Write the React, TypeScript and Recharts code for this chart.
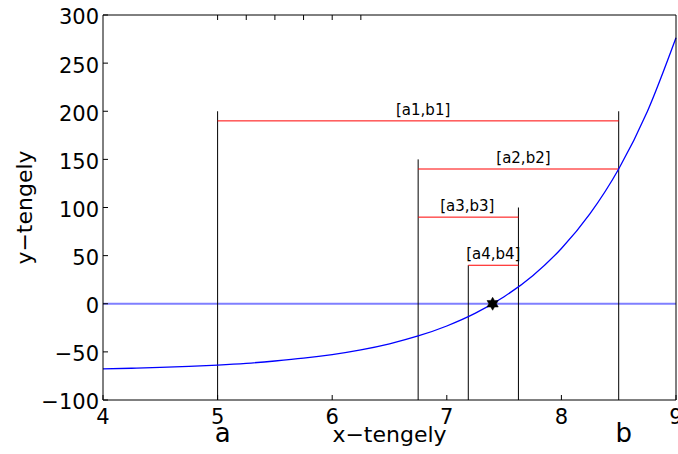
import { ComposedChart, Line, Scatter, XAxis, YAxis, ReferenceLine } from "recharts"

// blue curve
const xValues = [4, 4.25, 4.5, 4.75, 5, 5.25, 5.5, 5.75, 6, 6.25, 6.5, 6.75, 7, 7.25, 7.5, 7.75, 8, 8.25, 8.5, 8.75, 9]
const yValues = [-67.7, -67.0, -66.2, -65.1, -63.7, -61.9, -59.5, -56.6, -52.8, -47.9, -41.6, -33.5, -23.1, -9.8, 7.3, 29.2, 57.4, 93.6, 140.0, 199.7, 276.3]

const xTicks = [4, 5, 6, 7, 8, 9]
const yTicks = [-100, -50, 0, 50, 100, 150, 200, 250, 300]

// vertical stems (from the bottom of the axis up to a height)
const stemX = [5, 8.5, 6.75, 7.625, 7.1875]
const stemTop = [200, 200, 150, 100, 40]
const stemNames = ["a", "b", "", "", ""]

// bisection intervals
const intervalStart = [5, 6.75, 6.75, 7.1875]
const intervalEnd = [8.5, 8.5, 7.625, 7.625]
const intervalLevel = [190, 140, 90, 40]
const intervalNames = ["[a1,b1]", "[a2,b2]", "[a3,b3]", "[a4,b4]"]

const rootX = [7.4]
const rootY = [0]

const curveData = xValues.map((x, i) => ({ x, y: yValues[i] }))
const rootData = rootX.map((x, i) => ({ x, y: rootY[i] }))

// small horizontal nudge of the interval captions
const captionNudge = [5, 5, -1, 0]

const FONT = "'DejaVu Sans', sans-serif"

const minus = (v: number) => String(v).replace("-", "−")

function Hexagram(props: any) {
  const { cx, cy } = props
  const outer = 6.5
  const inner = 3.8
  const pts: string[] = []
  for (let i = 0; i < 12; i++) {
    const a = ((-90 + i * 30) * Math.PI) / 180
    const r = i % 2 === 0 ? outer : inner
    pts.push(`${cx + r * Math.cos(a)},${cy + r * Math.sin(a)}`)
  }
  return <polygon points={pts.join(" ")} fill="#000" stroke="#000" strokeWidth={0.5} />
}

const noTick = () => <g />

export default function App() {
  return (
    <div style={{ position: "absolute", left: 0, top: 0, width: 678, height: 454, background: "#fff", fontFamily: FONT }}>
      <ComposedChart width={678} height={454} data={curveData} margin={{ top: 0, right: 0, bottom: 0, left: 0 }}>
        <XAxis
          dataKey="x"
          type="number"
          domain={[4, 9]}
          ticks={xTicks}
          interval={0}
          height={54}
          tickSize={-5}
          tickMargin={14}
          axisLine={{ stroke: "#000" }}
          tickLine={{ stroke: "#000" }}
          tick={{ fill: "#000", fontSize: 21, fontFamily: FONT }}
          label={{ value: "x−tengely", position: "insideBottom", offset: 12, fill: "#000", fontSize: 22, fontFamily: FONT }}
        />
        <XAxis
          xAxisId="top"
          orientation="top"
          type="number"
          domain={[4, 9]}
          ticks={xTicks}
          interval={0}
          height={15}
          tickSize={-5}
          axisLine={{ stroke: "#000" }}
          tickLine={{ stroke: "#000" }}
          tick={noTick}
        />
        <YAxis
          type="number"
          domain={[-100, 300]}
          ticks={yTicks}
          interval={0}
          width={103}
          tickSize={-5}
          tickMargin={9}
          tickFormatter={minus}
          axisLine={{ stroke: "#000" }}
          tickLine={{ stroke: "#000" }}
          tick={{ fill: "#000", fontSize: 21, fontFamily: FONT, dy: 2 }}
          label={{
            value: "y−tengely",
            angle: -90,
            position: "insideLeft",
            offset: 24,
            fill: "#000",
            fontSize: 22,
            fontFamily: FONT,
            style: { textAnchor: "middle" },
          }}
        />
        <YAxis
          yAxisId="right"
          orientation="right"
          type="number"
          domain={[-100, 300]}
          ticks={yTicks}
          interval={0}
          width={2}
          tickSize={-5}
          axisLine={{ stroke: "#000" }}
          tickLine={{ stroke: "#000" }}
          tick={noTick}
        />

        <ReferenceLine y={0} stroke="#7f7fff" strokeWidth={2} />

        {stemX.map((x, i) => (
          <ReferenceLine
            key={"stem" + i}
            segment={[
              { x, y: -100 },
              { x, y: stemTop[i] },
            ]}
            stroke="#000"
            strokeWidth={1}
            label={
              stemNames[i]
                ? { value: stemNames[i], position: "bottom", offset: 24, dx: 5, fill: "#000", fontSize: 26, fontFamily: FONT }
                : undefined
            }
          />
        ))}

        {intervalStart.map((a, i) => (
          <ReferenceLine
            key={"int" + i}
            segment={[
              { x: a, y: intervalLevel[i] },
              { x: intervalEnd[i], y: intervalLevel[i] },
            ]}
            stroke="#ff0000"
            strokeWidth={1}
            label={{ value: intervalNames[i], position: "top", offset: 6, dx: captionNudge[i], fill: "#000", fontSize: 15, fontFamily: FONT }}
          />
        ))}

        <Line type="monotone" dataKey="y" stroke="#0000ff" strokeWidth={1.3} dot={false} activeDot={false} isAnimationActive={false} />
        <Scatter data={rootData} dataKey="y" shape={Hexagram} isAnimationActive={false} />
      </ComposedChart>
    </div>
  )
}
